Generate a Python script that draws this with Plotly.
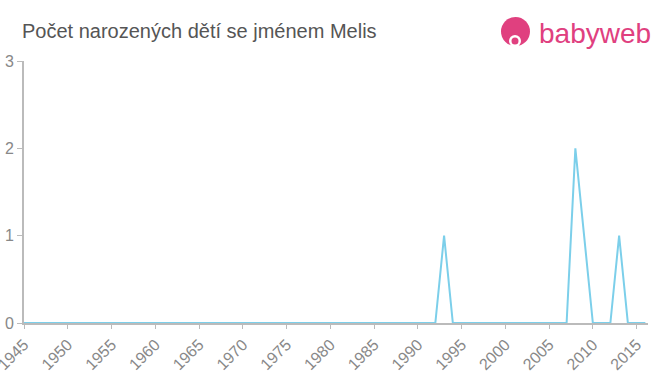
import plotly.graph_objects as go

years = list(range(1945, 2017))
peaks = {1993: 1, 2008: 2, 2009: 1, 2013: 1}
counts = [peaks.get(y, 0) for y in years]
x_ticks = list(range(1945, 2016, 5))
y_ticks = [0, 1, 2, 3]

title_text = "Počet narozených dětí se jménem Melis"
pink = "#e0407f"

W, H = 660, 375
l, r, t, b = 24, 12, 61, 52
pw, ph = W - l - r, H - t - b
def px(x):
    return (x - l) / pw
def py(y):
    return (H - b - y) / ph

fig = go.Figure()
fig.add_trace(go.Scatter(x=years, y=counts, mode="lines",
                         line=dict(color="#7ccfea", width=2),
                         hoverinfo="skip", showlegend=False))

fig.update_layout(
    width=W, height=H,
    margin=dict(l=l, r=r, t=t, b=b, autoexpand=False),
    paper_bgcolor="white", plot_bgcolor="white",
    font=dict(family="Liberation Sans, Arial, sans-serif", color="#888"),
    xaxis=dict(range=[1945, 2016.3], tickvals=x_ticks, ticktext=[str(v) for v in x_ticks],
               tickangle=-45, ticks="outside", ticklen=4, tickcolor="#bbb",
               showline=True, linecolor="#bbb", linewidth=2, showgrid=False, zeroline=False,
               automargin=False, ticklabeloverflow="allow",
               tickfont=dict(size=16, color="#888")),
    yaxis=dict(range=[0, 3], tickvals=y_ticks, ticks="outside", ticklen=5, tickcolor="#bbb",
               showline=True, linecolor="#bbb", linewidth=2, showgrid=False, zeroline=False,
               automargin=False, ticklabeloverflow="allow",
               tickfont=dict(size=16, color="#888")),
    annotations=[
        dict(text=title_text, x=px(20), y=py(31), xref="paper", yref="paper", showarrow=False,
             xanchor="left", yanchor="middle", font=dict(size=20, color="#555")),
        dict(text="babyweb", x=px(537), y=py(33), xref="paper", yref="paper", showarrow=False,
             xanchor="left", yanchor="middle", font=dict(size=28, color=pink)),
    ],
    shapes=[
        dict(type="circle", xref="paper", yref="paper", x0=px(501), x1=px(530), y0=py(17), y1=py(46),
             fillcolor=pink, line=dict(width=0)),
        dict(type="circle", xref="paper", yref="paper", x0=px(509), x1=px(521), y0=py(35), y1=py(47),
             fillcolor="white", line=dict(width=0)),
        dict(type="circle", xref="paper", yref="paper", x0=px(511.5), x1=px(518.5), y0=py(37.5), y1=py(44.5),
             fillcolor=pink, line=dict(width=0)),
    ],
)

fig.write_html("out.html")
